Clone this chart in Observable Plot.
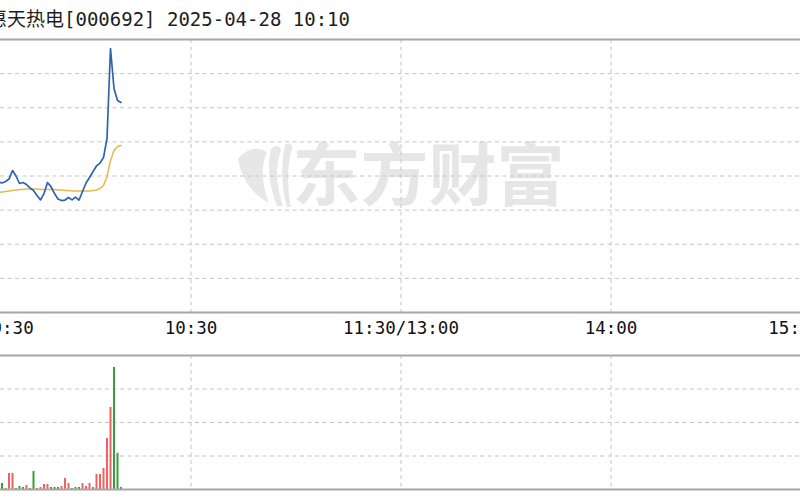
<!DOCTYPE html>
<html>
<head>
<meta charset="utf-8">
<script src="https://cdn.jsdelivr.net/npm/d3@7"></script>
<script src="https://cdn.jsdelivr.net/npm/@observablehq/plot@0.6"></script>
<style>
  html, body { margin: 0; padding: 0; background: #fff; }
  #wrap { position: relative; width: 800px; height: 500px; overflow: hidden; background: #fff; }
  #title { position: absolute; left: -12px; top: 10px; font-family: "DejaVu Sans Mono", "Noto Sans CJK SC", monospace; font-size: 19px; line-height: 19px; color: #1e1e1e; white-space: pre; z-index: 3; }
  #logo { position: absolute; left: 0; top: 0; z-index: 0; }
  .panel { position: absolute; left: 0; z-index: 2; }
  #price { top: 0; }
  #vol { top: 347px; }
</style>
</head>
<body>
<div id="wrap">
  <svg id="logo" width="800" height="500">
    <g transform="translate(236,143)" fill="#e7e7e7">
      <path d="M2,16 C10,5 24,3 31,9 C25,22 25,40 33,60 C18,52 6,38 2,16 Z"/>
      <path d="M35,6 C40,1 45,3 45,8 C39,22 40,42 47,63 L41,63 C33,44 31,22 35,6 Z"/>
      <path d="M49,2 C53,-1 57,1 56,6 C51,22 51,44 55,64 L51,64 C45,44 45,20 49,2 Z"/>
    </g>
  </svg>
  <div id="title">惠天热电[000692] 2025-04-28 10:10</div>
  <div id="price" class="panel"></div>
  <div id="vol" class="panel"></div>
</div>
<script>
// ---- data ----
const minutes = [0,1,2,3,4,5,6,7,8,9,10,11,12,13,14,15,16,17,18,19,20,21,22,23,24,25,26,27,28,29,30,31,32,33,34,35,36,37,38,39,40];
// price, % change vs previous close
const pricePct = [-0.80,-1.20,-1.50,-1.10,-0.70,-0.35,-0.41,-0.32,-0.18,0.32,0.00,-0.44,-0.38,-0.50,-0.70,-0.85,-1.14,-1.40,-1.03,-0.38,-0.62,-1.03,-1.35,-1.44,-1.41,-1.26,-1.40,-1.24,-1.41,-0.91,-0.41,-0.09,0.26,0.59,0.76,1.08,2.20,7.47,5.13,4.43,4.31];
// average price, % change vs previous close
const avgPct = [-0.80,-1.00,-1.15,-1.10,-1.00,-0.97,-0.94,-0.91,-0.88,-0.85,-0.82,-0.79,-0.79,-0.76,-0.76,-0.76,-0.76,-0.79,-0.79,-0.79,-0.79,-0.79,-0.82,-0.82,-0.85,-0.85,-0.88,-0.88,-0.88,-0.88,-0.88,-0.88,-0.85,-0.82,-0.73,-0.56,-0.03,0.91,1.49,1.73,1.79];
// volume (lots) and direction per minute
const volume = [900,300,240,200,150,240,180,30,480,480,30,90,60,120,30,540,30,60,150,150,60,60,60,90,330,180,30,60,60,180,90,180,60,450,450,630,1520,2450,3640,1080,60];
const volDir = ["u","d","d","u","u","u","d","u","u","u","d","d","d","u","d","d","u","u","u","u","d","d","d","u","u","u","d","d","d","u","u","u","u","u","u","u","u","u","d","d","d"];
// time axis
const tickMinutes = [0, 60, 120, 180, 240];
const tickLabels = ["09:30", "10:30", "11:30/13:00", "14:00", "15:00"];
const gridMinutes = [60, 120, 180];
const priceGrid = [-6, -4, -2, 0, 2, 4, 6];
const priceDomain = [-8, 8];
const volGrid = [1000, 2000, 3000];
const volDomain = [0, 4000];
const watermark = "东方财富";

// ---- build ----
const series = minutes.map((m, i) => ({m, price: pricePct[i], avg: avgPct[i], vol: volume[i], dir: volDir[i]}));
const ticks = tickMinutes.map((m, i) => ({m, label: tickLabels[i]}));
const xScale = {domain: [0, 240], range: [-19.5, 820.5], axis: null};
const gridStyle = {stroke: "#c4c4c4", strokeWidth: 1, strokeDasharray: "4,3.5"};
const borderStyle = {stroke: "#a6a6a6", strokeWidth: 2};
const monoFont = "DejaVu Sans Mono";

const price = Plot.plot({
  width: 800, height: 347,
  marginTop: 39, marginBottom: 35, marginLeft: 0, marginRight: 0,
  x: xScale,
  y: {domain: priceDomain, range: [312, 39], axis: null},
  style: {background: "transparent", overflow: "hidden"},
  marks: [
    Plot.text([watermark], {frameAnchor: "top-left", dx: 292, dy: 139, textAnchor: "start", lineAnchor: "middle",
      fontSize: 68, fontWeight: "bold", fontFamily: "Noto Sans CJK SC", fill: "#e6e6e6"}),
    Plot.ruleY(priceGrid, gridStyle),
    Plot.ruleX(gridMinutes, gridStyle),
    Plot.ruleY(priceDomain, borderStyle),
    Plot.line(series, {x: "m", y: "avg", stroke: "#e8b84a", strokeWidth: 1.5, clip: true}),
    Plot.line(series, {x: "m", y: "price", stroke: "#2f63ad", strokeWidth: 1.7, clip: true}),
    Plot.text(ticks.filter(d => d.m === 0), {x: "m", text: "label", frameAnchor: "bottom", dy: 21, textAnchor: "start",
      fontSize: 17.5, fontFamily: monoFont, fill: "#111"}),
    Plot.text(ticks.filter(d => d.m > 0 && d.m < 240), {x: "m", text: "label", frameAnchor: "bottom", dy: 21, textAnchor: "middle",
      fontSize: 17.5, fontFamily: monoFont, fill: "#111"}),
    Plot.text(ticks.filter(d => d.m === 240), {x: "m", text: "label", frameAnchor: "bottom", dy: 21, textAnchor: "end",
      fontSize: 17.5, fontFamily: monoFont, fill: "#111"})
  ]
});
document.getElementById("price").appendChild(price);

const vol = Plot.plot({
  width: 800, height: 153,
  marginTop: 8, marginBottom: 11, marginLeft: 0, marginRight: 0,
  x: xScale,
  y: {domain: volDomain, axis: null},
  style: {background: "transparent", overflow: "hidden"},
  marks: [
    Plot.ruleY(volGrid, gridStyle),
    Plot.ruleX(gridMinutes, gridStyle),
    Plot.ruleX(series, {x: "m", y1: 0, y2: "vol", stroke: d => d.dir === "u" ? "#f06262" : "#3a9d3a", strokeWidth: 2, clip: true}),
    Plot.ruleY(volDomain, borderStyle)
  ]
});
document.getElementById("vol").appendChild(vol);
</script>
</body>
</html>
